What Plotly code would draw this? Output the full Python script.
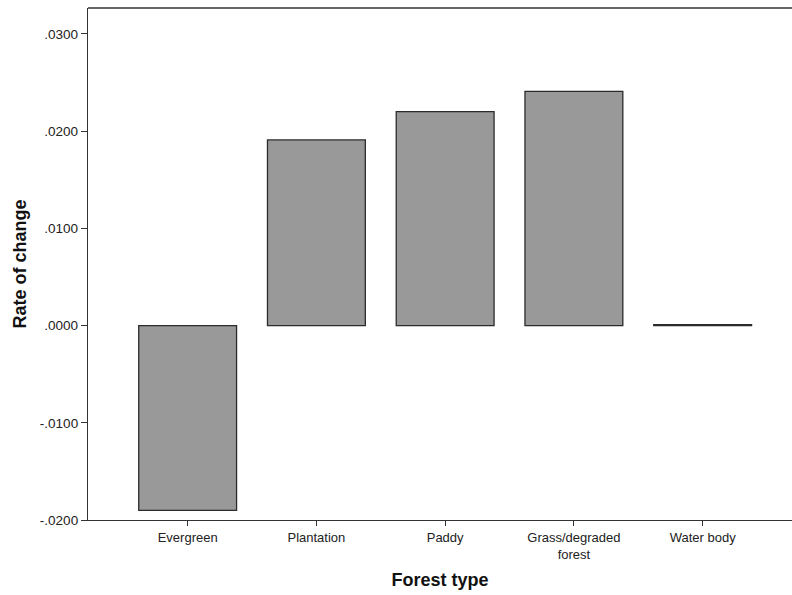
import plotly.graph_objects as go

categories = ["Evergreen", "Plantation", "Paddy", "Grass/degraded<br>forest", "Water body"]
rate_of_change = [-0.0190, 0.0191, 0.0220, 0.0241, 0.0001]
y_tick_vals = [-0.02, -0.01, 0.0, 0.01, 0.02, 0.03]
y_tick_text = ["-.0200", "-.0100", ".0000", ".0100", ".0200", ".0300"]

fig = go.Figure()
fig.add_trace(go.Bar(
    x=list(range(len(categories))),
    y=rate_of_change,
    width=0.76,
    marker=dict(color="#999999", line=dict(color="#2b2b2b", width=1.3)),
    showlegend=False,
    hoverinfo="skip",
))

fig.update_layout(
    width=792, height=595,
    margin=dict(l=88, r=0, t=8, b=75),
    paper_bgcolor="white", plot_bgcolor="white",
    font=dict(family="Liberation Sans, Arial, sans-serif", color="#222222"),
    xaxis=dict(
        range=[-0.774, 4.694],
        tickvals=list(range(len(categories))),
        ticktext=categories,
        showline=True, linecolor="#333333", linewidth=1.3,
        ticks="outside", ticklen=5, tickcolor="#333333",
        showgrid=False, zeroline=False,
        tickfont=dict(size=13, color="#222222"),
        title=dict(text="<b>Forest type</b>", font=dict(size=18, color="#111111"), standoff=12),
    ),
    yaxis=dict(
        range=[-0.02, 0.03267],
        tickvals=y_tick_vals,
        ticktext=y_tick_text,
        showline=True, linecolor="#333333", linewidth=1.3,
        ticks="outside", ticklen=6, tickcolor="#333333",
        showgrid=False, zeroline=False,
        tickfont=dict(size=13.5, color="#222222"),
        title=dict(text="<b>Rate of change</b>", font=dict(size=18, color="#111111"), standoff=8),
    ),
)

fig.add_shape(type="line", xref="paper", yref="paper", x0=0, x1=1.0, y0=1, y1=1,
              line=dict(color="#333333", width=1.5))

fig.write_html("out.html", config={"displayModeBar": False},
               post_script="document.body.style.margin='0';document.body.style.overflow='hidden';")
